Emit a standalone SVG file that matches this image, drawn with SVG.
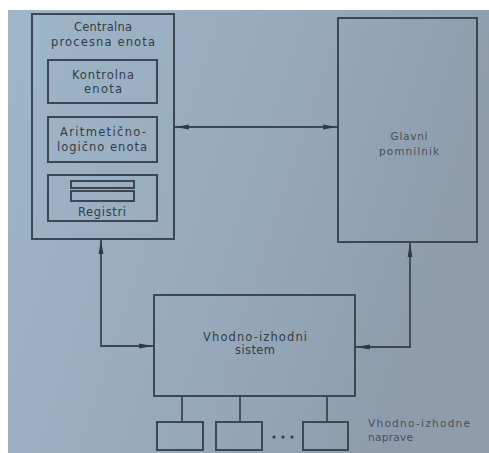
<svg xmlns="http://www.w3.org/2000/svg" width="489" height="453" viewBox="0 0 489 453">
  <defs>
    <linearGradient id="paper" x1="0" y1="0" x2="1" y2="0.3">
      <stop offset="0" stop-color="#9fb6c9"/>
      <stop offset="0.55" stop-color="#97aabb"/>
      <stop offset="1" stop-color="#8e9cab"/>
    </linearGradient>
    <marker id="head" viewBox="0 0 14 6" refX="14" refY="3" markerWidth="14" markerHeight="6" markerUnits="userSpaceOnUse" orient="auto-start-reverse">
      <path d="M0,0.6 L14,3 L0,5.4 Z" fill="#2f3a46"/>
    </marker>
    <style>
      .box { fill: none; stroke: #3b4753; stroke-width: 2; }
      .wire { fill: none; stroke: #3b4753; stroke-width: 1.8; }
      .lbl { font-family: "DejaVu Sans", "Liberation Sans", sans-serif; font-size: 11.5px; fill: #323d48; text-anchor: middle; }
      .faint { fill: #46515d; font-size: 10.5px; }
      .left { text-anchor: start; }
    </style>
  </defs>

  <!-- paper -->
  <rect x="0" y="0" width="489" height="453" fill="#ffffff"/>
  <rect x="8" y="10" width="481" height="443" fill="url(#paper)"/>

  <!-- connectors -->
  <g id="connectors">
    <line class="wire" x1="175" y1="127" x2="337" y2="127" marker-start="url(#head)" marker-end="url(#head)"/>
    <polyline class="wire" points="101,240 101,346 153,346" marker-start="url(#head)" marker-end="url(#head)"/>
    <polyline class="wire" points="410,243 410,347 356,347" marker-start="url(#head)" marker-end="url(#head)"/>
    <line class="wire" x1="182" y1="396" x2="182" y2="422"/>
    <line class="wire" x1="240" y1="396" x2="240" y2="422"/>
    <line class="wire" x1="327" y1="396" x2="327" y2="422"/>
  </g>

  <!-- central processing unit -->
  <g id="cpu">
    <rect class="box" x="32" y="14" width="142" height="225"/>
    <text class="lbl" x="103" y="31" textLength="58" lengthAdjust="spacing">Centralna</text>
    <text class="lbl" x="103" y="46" textLength="104" lengthAdjust="spacing">procesna enota</text>
  </g>

  <g id="control-unit">
    <rect class="box" x="48" y="60" width="109" height="43"/>
    <text class="lbl" x="103" y="79" textLength="62" lengthAdjust="spacing">Kontrolna</text>
    <text class="lbl" x="103" y="93" textLength="38" lengthAdjust="spacing">enota</text>
  </g>

  <g id="alu">
    <rect class="box" x="48" y="117" width="109" height="45"/>
    <text class="lbl" x="103" y="136" textLength="86" lengthAdjust="spacing">Aritmetično-</text>
    <text class="lbl" x="102" y="151" textLength="90" lengthAdjust="spacing">logično enota</text>
  </g>

  <g id="registers">
    <rect class="box" x="48" y="175" width="109" height="46"/>
    <rect class="box" x="71" y="181" width="63" height="7" stroke-width="1.6"/>
    <rect class="box" x="71" y="191" width="63" height="10" stroke-width="1.6"/>
    <text class="lbl" x="102" y="216" textLength="48" lengthAdjust="spacing">Registri</text>
  </g>

  <!-- main memory -->
  <g id="memory">
    <rect class="box" x="338" y="18" width="139" height="224"/>
    <text class="lbl faint" x="409" y="140" textLength="37" lengthAdjust="spacing">Glavni</text>
    <text class="lbl faint" x="409" y="155" textLength="60" lengthAdjust="spacing">pomnilnik</text>
  </g>

  <!-- input/output system -->
  <g id="io-system">
    <rect class="box" x="154" y="295" width="201" height="101"/>
    <text class="lbl" x="255" y="341" textLength="104" lengthAdjust="spacing">Vhodno-izhodni</text>
    <text class="lbl" x="255" y="354" textLength="40" lengthAdjust="spacing">sistem</text>
  </g>

  <!-- input/output devices -->
  <g id="device-1"><rect class="box" x="157" y="422" width="46" height="28"/></g>
  <g id="device-2"><rect class="box" x="216" y="422" width="46" height="28"/></g>
  <g id="device-ellipsis">
    <circle cx="274" cy="437" r="1.6" fill="#323d48"/>
    <circle cx="283" cy="437" r="1.6" fill="#323d48"/>
    <circle cx="292" cy="437" r="1.6" fill="#323d48"/>
  </g>
  <g id="device-n"><rect class="box" x="303" y="422" width="45" height="28"/></g>

  <g id="devices-label">
    <text class="lbl faint left" x="368" y="427" textLength="102" lengthAdjust="spacing">Vhodno-izhodne</text>
    <text class="lbl faint left" x="368" y="441" textLength="45" lengthAdjust="spacing">naprave</text>
  </g>
</svg>
